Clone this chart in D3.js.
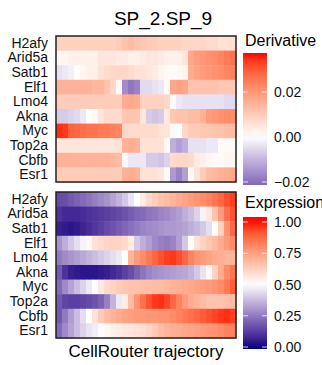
<!DOCTYPE html>
<html>
<head>
<meta charset="utf-8">
<script src="https://cdn.jsdelivr.net/npm/d3@7"></script>
<style>
  body { margin: 0; background: #fff; }
  svg text { font-family: "Liberation Sans", Arial, sans-serif; }
</style>
</head>
<body>
<svg id="chart" width="322" height="365"></svg>
<script>
const genes = ['H2afy', 'Arid5a', 'Satb1', 'Elf1', 'Lmo4', 'Akna', 'Myc', 'Top2a', 'Cbfb', 'Esr1'];

// derivative along trajectory (x 0.001), 30 bins
const derivH2afy  = [9,9,9,9,9,9,9,9,9,9,10,12,13,12,11,10,10,9,9,9,9,8,8,8,8,7,7,6,6,6];
const derivArid5a = [2,2,3,3,3,3,3,5,5,5,4,4,3,3,4,5,5,4,3,3,3,5,17,19,20,21,22,23,25,26];
const derivSatb1  = [-4,-3,-2,0,2,3,3,6,7,8,8,8,7,6,6,5,4,2,1,1,1,2,16,18,19,20,21,22,23,24];
const derivElf1   = [15,15,15,15,15,15,14,14,12,8,1,-16,-19,-17,-5,-5,-4,-3,1,17,18,17,12,12,12,12,12,11,11,11];
const derivLmo4   = [10,10,10,10,10,10,10,10,10,10,10,16,17,16,9,9,9,9,8,1,-3,-4,-4,-4,-4,-4,-4,-4,-5,-5];
const derivAkna   = [-7,-7,-6,-5,-3,0,1,5,7,7,7,11,11,11,5,-7,-8,-7,4,11,12,12,13,13,15,19,20,21,22,22];
const derivMyc    = [35,34,29,28,27,26,26,25,25,24,23,8,7,7,7,7,7,6,5,1,0,8,10,10,11,11,12,12,13,13];
const derivTop2a  = [5,5,5,5,5,5,5,5,5,5,6,15,16,15,6,6,6,6,1,-11,-13,-11,-4,-4,-4,-3,-3,1,1,1];
const derivCbfb   = [15,15,15,15,15,15,15,15,15,14,13,1,-3,-3,-3,-7,-7,-8,-6,7,8,8,7,4,3,2,1,1,2,2];
const derivEsr1   = [10,10,10,10,10,10,10,10,10,10,10,15,16,15,6,6,6,5,1,-14,-17,-13,1,6,10,13,14,15,16,17];

// scaled expression (x 0.01), 30 bins
const exprH2afy  = [15,16,18,20,22,24,26,28,30,33,36,40,45,50,55,60,63,66,68,70,72,74,76,78,80,82,85,88,92,95];
const exprArid5a = [10,8,8,8,9,10,11,12,13,14,15,17,19,21,22,24,25,27,28,30,32,35,38,42,48,56,66,76,86,92];
const exprSatb1  = [6,5,4,5,7,9,11,13,15,17,19,21,23,25,27,28,29,30,31,31,32,33,35,37,40,44,50,62,78,88];
const exprElf1   = [30,35,40,44,48,52,58,60,61,62,62,60,55,40,35,32,28,26,25,27,32,40,50,58,62,65,68,72,76,80];
const exprLmo4   = [25,28,30,32,34,36,38,40,42,44,46,50,70,76,80,84,88,92,95,96,93,88,82,78,76,74,72,71,70,70];
const exprAkna   = [18,10,6,5,4,4,4,5,6,8,10,13,16,20,24,27,29,30,31,32,33,34,36,40,45,52,62,72,80,85];
const exprMyc    = [22,28,33,38,42,46,50,56,60,62,64,65,66,66,67,67,68,68,69,70,71,72,73,74,75,76,78,80,84,90];
const exprTop2a  = [18,14,13,13,14,15,17,20,26,36,46,55,68,78,86,92,96,97,94,88,82,76,72,70,68,66,66,66,67,68];
const exprCbfb   = [18,25,32,38,44,50,58,64,68,70,72,74,75,76,76,77,77,78,78,80,82,84,86,88,90,92,94,96,97,95];
const exprEsr1   = [22,28,33,38,42,45,47,50,52,54,55,56,57,58,59,61,64,68,70,71,72,73,74,75,76,77,78,80,82,82];

const derivTicks = [-0.02, 0.00, 0.02];
const exprTicks = [0.00, 0.25, 0.50, 0.75, 1.00];

const derivRows = [derivH2afy, derivArid5a, derivSatb1, derivElf1, derivLmo4, derivAkna, derivMyc, derivTop2a, derivCbfb, derivEsr1]
  .map(r => r.map(v => v / 1000));
const exprRows = [exprH2afy, exprArid5a, exprSatb1, exprElf1, exprLmo4, exprAkna, exprMyc, exprTop2a, exprCbfb, exprEsr1]
  .map(r => r.map(v => v / 100));

const svg = d3.select('#chart');
const nCol = derivH2afy.length;

const left = 56, right = 236;
const x = d3.scaleBand().domain(d3.range(nCol)).range([left, right]);

// navy - white - red, like scale_fill_gradient2
const derivMax = 0.037;
const derivColor = d3.scaleLinear().domain([-derivMax, 0, derivMax])
  .range(['#000080', '#ffffff', '#ff0000']).interpolate(d3.interpolateLab).clamp(true);
const exprColor = d3.scaleLinear().domain([0, 0.5, 1])
  .range(['#000080', '#ffffff', '#ff0000']).interpolate(d3.interpolateLab).clamp(true);

function heatmap(rows, top, bottom, color) {
  const y = d3.scaleBand().domain(genes).range([top, bottom]);
  const g = svg.append('g');
  rows.forEach((vals, gi) => {
    g.selectAll(null)
      .data(vals)
      .enter().append('rect')
      .attr('x', (d, i) => x(i))
      .attr('y', y(genes[gi]))
      .attr('width', x.bandwidth() + 0.5)
      .attr('height', y.bandwidth() + 0.5)
      .attr('fill', d => color(d));
  });
  g.append('rect')
    .attr('x', left).attr('y', top)
    .attr('width', right - left).attr('height', bottom - top)
    .attr('fill', 'none').attr('stroke', '#222').attr('stroke-width', 1.5);

  const ax = svg.append('g')
    .attr('transform', 'translate(' + left + ',0)')
    .call(d3.axisLeft(y).tickSize(0).tickPadding(8));
  ax.select('.domain').remove();
  ax.selectAll('text')
    .attr('fill', '#111')
    .style('font-size', '14px')
    .style('font-family', '"Liberation Sans", Arial, sans-serif');
}

heatmap(derivRows, 36, 182, derivColor);
heatmap(exprRows, 192, 338, exprColor);

// colour bars
function colorbar(id, title, titleY, barTop, barBottom, ticks, scale, color, fmt) {
  const bx = 243, bw = 24;
  const defs = svg.append('defs');
  const grad = defs.append('linearGradient').attr('id', id)
    .attr('x1', 0).attr('y1', 1).attr('x2', 0).attr('y2', 0);
  d3.range(0, 1.0001, 0.05).forEach(t => {
    const v = scale.invert(barBottom + t * (barTop - barBottom));
    grad.append('stop').attr('offset', t).attr('stop-color', color(v));
  });
  svg.append('rect')
    .attr('x', bx).attr('y', barTop)
    .attr('width', bw).attr('height', barBottom - barTop)
    .attr('fill', 'url(#' + id + ')');

  const tk = svg.append('g');
  ticks.forEach(t => {
    tk.append('line').attr('x1', bx).attr('x2', bx + 5)
      .attr('y1', scale(t)).attr('y2', scale(t))
      .attr('stroke', '#fff').attr('stroke-width', 0.8);
    tk.append('line').attr('x1', bx + bw - 5).attr('x2', bx + bw)
      .attr('y1', scale(t)).attr('y2', scale(t))
      .attr('stroke', '#fff').attr('stroke-width', 0.8);
    tk.append('text')
      .attr('x', 274).attr('y', scale(t))
      .attr('dy', '0.36em')
      .attr('fill', '#111')
      .style('font-size', '14px')
      .text(fmt(t));
  });

  svg.append('text')
    .attr('x', 245).attr('y', titleY)
    .attr('fill', '#000')
    .style('font-size', '16px')
    .text(title);
}

const derivLegend = d3.scaleLinear().domain([-0.02, 0.02]).range([182, 92]);
colorbar('gradDeriv', 'Derivative', 46, 53, 185, derivTicks, derivLegend, derivColor,
  t => d3.format('.2f')(t).replace('-', '\u2212'));

const exprLegend = d3.scaleLinear().domain([0, 1]).range([347, 222]);
colorbar('gradExpr', 'Expression', 208, 217, 349, exprTicks, exprLegend, exprColor,
  d3.format('.2f'));

// title and x label
svg.append('text')
  .attr('x', 163).attr('y', 25)
  .attr('text-anchor', 'middle')
  .style('font-size', '19px')
  .text('SP_2.SP_9');

svg.append('text')
  .attr('x', 146).attr('y', 357)
  .attr('text-anchor', 'middle')
  .style('font-size', '17px')
  .text('CellRouter trajectory');
</script>
</body>
</html>
